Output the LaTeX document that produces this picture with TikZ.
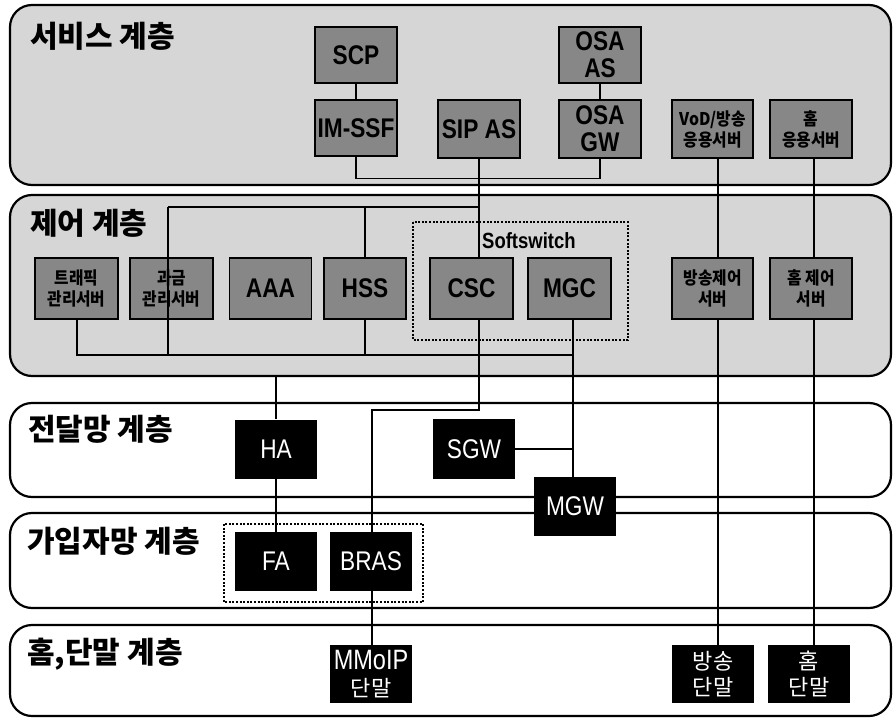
\documentclass[tikz,border=0pt]{standalone}
\usepackage{fontspec}
\setmainfont{Liberation Sans}
\newfontfamily\lat{Liberation Sans}[FakeStretch=0.84]
\newfontfamily\kr{Noto Sans CJK KR}
\newfontfamily\krn{Noto Sans CJK KR}[FakeStretch=0.9]
\definecolor{bandgray}{gray}{0.84}
\definecolor{boxgray}{gray}{0.53}
\begin{document}
\begin{tikzpicture}[x=1pt,y=-1pt,
  band/.style={draw,line width=2.2pt,rounded corners=22pt,anchor=north west,inner sep=0pt,outer sep=0pt,minimum width=881pt},
  graybox/.style={draw,line width=1.2pt,fill=boxgray,minimum width=82pt,minimum height=58pt,inner sep=0pt,align=center,font=\lat\bfseries\fontsize{27}{27}\selectfont},
  krgray/.style={graybox,font=\krn\bfseries\fontsize{17.5}{21}\selectfont},
  blackbox/.style={fill=black,text=white,minimum width=82pt,minimum height=59pt,inner sep=0pt,align=center,font=\lat\fontsize{27}{27}\selectfont},
  krblack/.style={blackbox,font=\kr\fontsize{22}{26}\selectfont},
  layertitle/.style={anchor=west,inner sep=0pt,font=\kr\bfseries\fontsize{30}{32}\selectfont},
  conn/.style={line width=1.8pt},
  groupbox/.style={line width=1.6pt,dash pattern=on 2pt off 1.6pt}
]
\useasboundingbox (0,0) rectangle (893,719);

% layer bands
\node[band,fill=bandgray,minimum height=180pt] (band1) at (10,5) {};
\node[band,fill=bandgray,minimum height=181pt] (band2) at (10,195) {};
\node[band,fill=white,minimum height=94pt] (band3) at (10,403) {};
\node[band,fill=white,minimum height=95pt] (band4) at (10,513) {};
\node[band,fill=white,minimum height=91pt] (band5) at (10,625) {};

% layer titles
\node[layertitle] (t1) at (30,36) {서비스 계층};
\node[layertitle] (t2) at (30,223) {제어 계층};
\node[layertitle] (t3) at (28,429) {전달망 계층};
\node[layertitle] (t4) at (27,541) {가입자망 계층};
\node[layertitle] (t5) at (27,654) {홈,단말 계층};

% group boxes
\draw[groupbox] (413,222) rectangle (628,340);
\draw[groupbox] (224,524) rectangle (423,602);
\node[anchor=base west,inner sep=0pt,font=\lat\bfseries\fontsize{22}{24}\selectfont] (ssw) at (482,248) {Softswitch};

% trunk x positions
\coordinate (xsip) at (479,0);
\coordinate (xbr) at (372,0);
\coordinate (xmg) at (573,0);
\coordinate (xvod) at (718,0);
\coordinate (xhome) at (814,0);
\coordinate (bus1) at (168,207);
\coordinate (bus2) at (77,355);
\coordinate (turn) at (479,410);

% service layer
\node[graybox,minimum height=56pt] (scp) at (356,55) {SCP};
\node[graybox,minimum height=56pt] (imssf) at (356,128) {IM-SSF};
\node[graybox] (sipas) at (479,129) {SIP AS};
\node[graybox,minimum height=56pt] (osaas) at (600,55) {OSA\\AS};
\node[graybox] (osagw) at (600,129) {OSA\\GW};
\node[krgray,minimum width=81pt] (vod) at (712.5,129) {VoD/방송\\응용서버};
\node[krgray] (homeapp) at (811,129) {홈\\응용서버};

% control layer
\node[krgray,minimum width=83pt,minimum height=61pt] (traffic) at (76.5,288.5) {트래픽\\관리서버};
\node[krgray,minimum width=83pt,minimum height=61pt] (billing) at (171.5,288.5) {과금\\관리서버};
\node[graybox,minimum height=61pt] (aaa) at (270.5,288.5) {AAA};
\node[graybox,minimum height=61pt] (hss) at (365,288.5) {HSS};
\node[graybox,minimum width=83pt,minimum height=61pt] (csc) at (471.5,288.5) {CSC};
\node[graybox,minimum width=83pt,minimum height=61pt] (mgc) at (569.5,288.5) {MGC};
\node[krgray,minimum width=81pt,minimum height=61pt] (bctl) at (712.5,288.5) {방송제어\\서버};
\node[krgray,minimum height=61pt] (hctl) at (811,288.5) {홈 제어\\서버};

% transport / access / home
\node[blackbox] (ha) at (276,449) {HA};
\node[blackbox,minimum height=60pt] (sgw) at (474,449) {SGW};
\node[blackbox] (mgw) at (575,506.5) {MGW};
\node[blackbox] (fa) at (276,561.5) {FA};
\node[blackbox] (bras) at (371,561.5) {BRAS};
\node[blackbox,minimum height=58pt,font=\lat\fontsize{28}{27}\selectfont] (mmoip) at (371,674) {MMoIP\\{\kr\fontsize{22}{26}\selectfont 단말}};
\node[krblack,minimum height=58pt] (bterm) at (713,674) {방송\\단말};
\node[krblack,minimum height=58pt] (hterm) at (809,674) {홈\\단말};

% connectors
\begin{scope}[conn]
\draw (scp.south) -- (imssf.north);
\draw (osaas.south) -- (osagw.north);
\draw (imssf.south) -- ++(0,22) -| (osagw.south);
\draw (sipas.south -| xsip) -- (csc.north -| xsip);
\draw (csc.south -| xsip) -- (turn) -- (turn -| xbr) -- (bras.north -| xbr);
\draw (bras.south -| xbr) -- (mmoip.north -| xbr);
\draw (bus1) -- (bus1 -| xsip);
\draw (bus1) -- (bus1 |- bus2);
\draw (hss.north) -- (hss.north |- bus1);
\draw (hss.south) -- (hss.south |- bus2);
\draw (traffic.south -| bus2) -- (bus2) -- (bus2 -| xmg);
\draw (mgc.south -| xmg) -- (mgw.north -| xmg);
\draw (sgw.east) -- (sgw.east -| xmg);
\draw (ha.north) -- (ha.north |- band2.south);
\draw (ha.south) -- (fa.north);
\draw (vod.south -| xvod) -- (bctl.north -| xvod);
\draw (bctl.south -| xvod) -- (bterm.north -| xvod);
\draw (homeapp.south -| xhome) -- (hctl.north -| xhome);
\draw (hctl.south -| xhome) -- (hterm.north -| xhome);
\end{scope}
\end{tikzpicture}
\end{document}
